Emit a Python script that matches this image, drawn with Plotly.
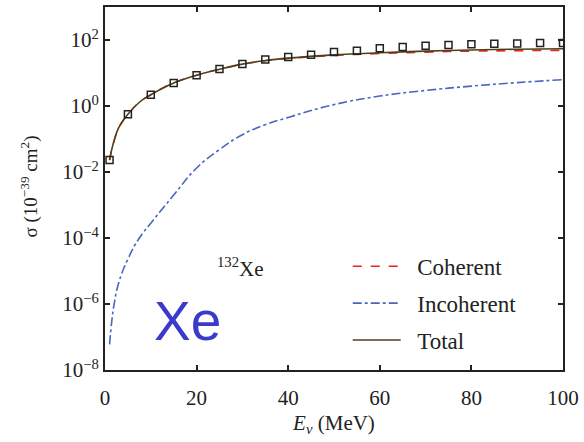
import plotly.graph_objects as go

# Neutrino energy grid for the calculated curves (MeV)
energy = [1, 1.5, 2, 3, 5, 7.5, 10, 15, 20, 25, 30, 35, 40, 50, 60, 70, 80, 90, 100]
# Cross sections in units of 1e-39 cm^2
coherent = [0.023, 0.05, 0.09, 0.22, 0.56, 1.3, 2.2, 5.0, 8.6, 13, 18.5, 23.5, 27.5,
            34, 39, 43, 46, 47.5, 48.5]
incoherent = [6e-8, 3.2e-7, 1e-6, 4.4e-6, 2.3e-5, 1e-4, 2.8e-4, 2e-3, 1.32e-2,
              4.8e-2, 0.135, 0.27, 0.45, 1.1, 2.0, 2.95, 4.0, 5.1, 6.3]
total = [0.023, 0.05, 0.09, 0.22, 0.56, 1.3, 2.2, 5.0, 8.6, 13, 18.6, 23.8, 28.2,
         35.5, 41, 46, 50, 52.5, 54.5]

# Reference points (open squares)
ref_energy = [1, 5, 10, 15, 20, 25, 30, 35, 40, 45, 50, 55, 60, 65, 70, 75,
              80, 85, 90, 95, 100]
ref_sigma = [0.023, 0.56, 2.2, 5.0, 8.6, 13.3, 18.8, 25.5, 30.6, 36, 43, 47.5,
             55.8, 61, 67, 70, 74, 77, 79, 81, 81]

x_ticks = [0, 20, 40, 60, 80, 100]
y_ticks = [1e-8, 1e-6, 1e-4, 1e-2, 1e0, 1e2]
y_tick_text = ["10<sup>\u22128</sup>", "10<sup>\u22126</sup>", "10<sup>\u22124</sup>",
               "10<sup>\u22122</sup>", "10<sup>0</sup>", "10<sup>2</sup>"]

serif = "Liberation Serif, Times New Roman, serif"
ink = "#222222"

fig = go.Figure()
fig.add_trace(go.Scatter(x=energy, y=coherent, mode="lines", name="\u2002Coherent",
                         legendgroup="a",
                         line=dict(color="#e8231f", width=1.6, dash="dash",
                                   shape="spline", smoothing=1.2)))
fig.add_trace(go.Scatter(x=energy, y=incoherent, mode="lines", name="\u2002Incoherent",
                         legendgroup="b",
                         line=dict(color="#4a66c0", width=1.6, dash="dashdot",
                                   shape="spline", smoothing=1.3)))
fig.add_trace(go.Scatter(x=energy, y=total, mode="lines", name="\u2002Total",
                         legendgroup="c",
                         line=dict(color="#4e4119", width=1.6, shape="spline",
                                   smoothing=1.2)))
fig.add_trace(go.Scatter(x=ref_energy, y=ref_sigma, mode="markers", showlegend=False,
                         marker=dict(symbol="square-open", size=7, color=ink,
                                     line=dict(width=1.5))))

axis_common = dict(showline=True, linecolor=ink, linewidth=2, mirror="ticks",
                   ticks="inside", ticklen=5, tickwidth=1.5, tickcolor=ink,
                   showgrid=False, zeroline=False,
                   tickfont=dict(family=serif, size=21, color=ink))

fig.update_xaxes(range=[0, 100], tickvals=x_ticks, ticklabelstandoff=8,
                 title=dict(text="<i>E</i><sub><i>\u03bd</i></sub> (MeV)",
                            font=dict(family=serif, size=21, color=ink), standoff=6),
                 **axis_common)
fig.update_yaxes(type="log", range=[-8, 3], tickvals=y_ticks, ticktext=y_tick_text,
                 **axis_common)

# Vertical axis title
fig.add_annotation(text="\u03c3 (10<sup>\u221239</sup> cm<sup>2</sup>)",
                   xref="paper", yref="paper", x=-0.164, y=0.505,
                   xanchor="center", yanchor="middle", textangle=-90, showarrow=False,
                   font=dict(family=serif, size=19, color=ink))

fig.add_annotation(text="Xe", xref="paper", yref="paper", x=0.18, y=0.135,
                   xanchor="center", yanchor="middle", showarrow=False,
                   font=dict(family="Liberation Sans, Arial, sans-serif", size=55,
                             color="#3a3acb"))
fig.add_annotation(text="<sup>132</sup>Xe", xref="paper", yref="paper", x=0.296, y=0.282,
                   xanchor="center", yanchor="middle", showarrow=False,
                   font=dict(family=serif, size=21, color=ink))

fig.update_layout(
    width=584, height=442,
    margin=dict(l=105, r=17, t=5, b=72),
    paper_bgcolor="white", plot_bgcolor="white",
    showlegend=True,
    legend=dict(x=0.53, y=0.345, xanchor="left", yanchor="top",
                bgcolor="rgba(0,0,0,0)", traceorder="grouped", tracegroupgap=4,
                itemwidth=48,
                font=dict(family=serif, size=23, color=ink)),
)

fig.write_html("out.html")
